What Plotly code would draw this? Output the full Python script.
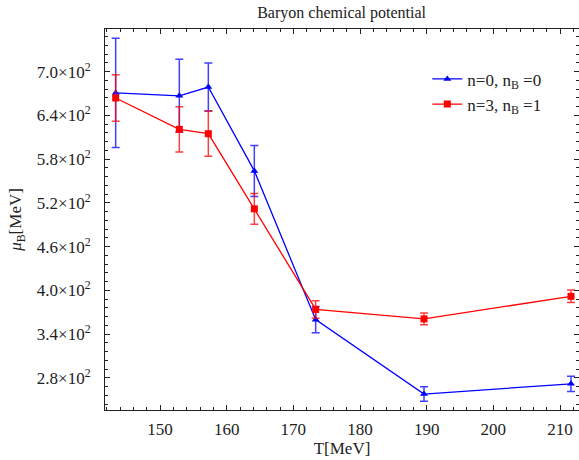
import plotly.graph_objects as go

T = [143.35, 152.9, 157.25, 164.15, 173.35, 189.6, 211.65]
mu_n0 = [671, 667, 679, 564, 360, 258, 272]
err_n0 = [75, 50, 33, 35, 18, 10, 10.5]
mu_n3 = [664, 621, 615, 512, 374, 361, 392]
err_n3 = [32, 31, 31, 21, 12, 8, 8.5]
ytick_vals = [280, 340, 400, 460, 520, 580, 640, 700]
ytick_text = ["%.1f×10<sup>2</sup>" % (v / 100) for v in ytick_vals]

FONT = "Liberation Serif"

fig = go.Figure()
fig.add_trace(go.Scatter(
    x=T, y=mu_n0, mode="lines+markers", name="n=0, n<sub>B</sub> =0",
    line=dict(color="#0000ff", width=1.3),
    marker=dict(symbol="triangle-up", size=7, color="#0000ff"),
    error_y=dict(type="data", array=err_n0, color="rgba(0,0,255,0.75)", thickness=1.5, width=4),
))
fig.add_trace(go.Scatter(
    x=T, y=mu_n3, mode="lines+markers", name="n=3, n<sub>B</sub> =1",
    line=dict(color="#ff0000", width=1.3),
    marker=dict(symbol="square", size=7, color="#ff0000"),
    error_y=dict(type="data", array=err_n3, color="rgba(255,0,0,0.75)", thickness=1.5, width=4),
))

axis_common = dict(
    showgrid=False, zeroline=False, showline=True, linecolor="#222", linewidth=1,
    ticks="inside", ticklen=5, tickcolor="#222", mirror="allticks",
    tickfont=dict(family=FONT, size=17, color="#222"),
)
fig.update_xaxes(
    range=[141.75, 212.85], tick0=150, dtick=10,
    minor=dict(dtick=2, ticks="inside", ticklen=3, tickcolor="#222"),
    title=dict(text="T[MeV]", font=dict(family=FONT, size=17, color="#222"), standoff=3),
    ticklabelstandoff=4,
    **axis_common,
)
fig.update_yaxes(
    range=[236.1, 758.6], tickmode="array", tickvals=ytick_vals, ticktext=ytick_text,
    minor=dict(tick0=280, dtick=12, ticks="inside", ticklen=3, tickcolor="#222"),
    title=dict(text="<i>μ</i><sub>B</sub>[MeV]", font=dict(family=FONT, size=17, color="#222"), standoff=10),
    ticklabelstandoff=10,
    **axis_common,
)
fig.update_layout(
    width=579, height=460,
    margin=dict(l=105, r=0, t=29, b=50),
    paper_bgcolor="white", plot_bgcolor="white",
    title=dict(text="Baryon chemical potential", x=0.59, xanchor="center", y=0.985, yanchor="top",
               font=dict(family=FONT, size=16, color="#222")),
    legend=dict(x=0.68, y=0.915, xanchor="left", yanchor="top", bgcolor="rgba(0,0,0,0)",
                font=dict(family=FONT, size=17, color="#222"), tracegroupgap=0, itemwidth=30),
    showlegend=True,
)
fig.write_html("out.html")
